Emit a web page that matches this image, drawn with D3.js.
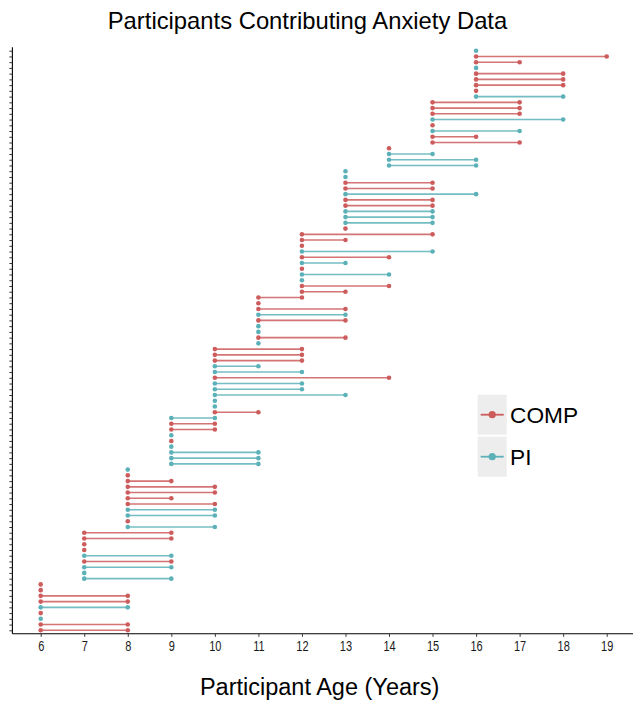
<!DOCTYPE html>
<html><head><meta charset="utf-8">
<script src="https://cdn.jsdelivr.net/npm/d3@7"></script>
<style>
body{margin:0;background:#fff;}
svg{display:block;}
</style></head>
<body>
<script>
// Rows from top to bottom: first age, last age (null = single visit), group
const rowStart = [16,16,16,16,16,16,16,16,16,15,15,15,15,15,15,15,15,14,14,14,14,13,13,13,13,13,13,13,13,13,13,13,12,12,12,12,12,12,12,12,12,12,12,11,11,11,11,11,11,11,11,11,10,10,10,10,10,10,10,10,10,10,10,10,9,9,9,9,9,9,9,9,9,8,8,8,8,8,8,8,8,8,8,8,7,7,7,7,7,7,7,7,7,6,6,6,6,6,6,6,6,6];
const rowEnd = [null,19,17,null,18,18,18,null,18,17,17,17,18,null,17,16,17,null,15,16,16,null,null,15,15,16,15,15,15,15,15,null,15,13,null,15,14,13,null,14,null,14,13,12,null,13,13,13,null,null,13,null,12,12,12,11,12,14,12,12,13,null,null,11,10,10,10,null,null,null,11,11,11,null,null,9,10,10,9,10,10,10,null,10,9,9,null,null,9,9,9,null,9,null,null,8,8,8,null,null,8,8];
const rowGroup = ["PI","COMP","COMP","PI","COMP","COMP","COMP","COMP","PI","COMP","COMP","COMP","PI","COMP","PI","COMP","COMP","COMP","PI","PI","PI","PI","PI","COMP","COMP","PI","COMP","COMP","PI","PI","PI","COMP","COMP","COMP","COMP","PI","COMP","PI","COMP","PI","PI","COMP","COMP","COMP","COMP","COMP","PI","COMP","PI","PI","COMP","PI","COMP","COMP","COMP","PI","PI","COMP","PI","PI","PI","PI","PI","COMP","PI","COMP","COMP","PI","COMP","PI","PI","PI","PI","PI","COMP","COMP","COMP","COMP","COMP","COMP","PI","PI","COMP","PI","COMP","COMP","COMP","COMP","PI","COMP","PI","PI","PI","COMP","COMP","COMP","COMP","PI","COMP","PI","COMP","COMP"];
const ageTicks = [6,7,8,9,10,11,12,13,14,15,16,17,18,19];
const groups = ["COMP","PI"];
const groupColors = ["#CD5C5C","#5CB1B8"];

const W = 633, H = 701;
const rows = rowStart.map((s,i)=>({id:i, start:s, end:rowEnd[i], group:rowGroup[i]}));

const svg = d3.select("body").append("svg").attr("width",W).attr("height",H);

const x = d3.scaleLinear().domain([5.35,19.65]).range([12.4,635]);
const y = d3.scalePoint().domain(rows.map(d=>d.id)).range([50.7,630.3]);
const color = d3.scaleOrdinal().domain(groups).range(groupColors);

// segments
svg.append("g").selectAll("line").data(rows.filter(d=>d.end!==null)).join("line")
  .attr("x1",d=>x(d.start)).attr("x2",d=>x(d.end))
  .attr("y1",d=>y(d.id)).attr("y2",d=>y(d.id))
  .attr("stroke",d=>color(d.group)).attr("stroke-width",1.6).attr("stroke-opacity",0.85);

// points
const pts = [];
rows.forEach(d=>{ pts.push({id:d.id,age:d.start,group:d.group}); if(d.end!==null) pts.push({id:d.id,age:d.end,group:d.group}); });
svg.append("g").selectAll("circle").data(pts).join("circle")
  .attr("cx",d=>x(d.age)).attr("cy",d=>y(d.id)).attr("r",2.3)
  .attr("fill",d=>color(d.group));

// y axis
const yAxis = svg.append("g").attr("transform","translate(12.4,0)")
  .call(d3.axisLeft(y).tickSize(3).tickFormat(""));
yAxis.select(".domain").attr("d","M0,47.3V633.8").attr("stroke","#000").attr("stroke-width",1.1);
yAxis.selectAll(".tick line").attr("stroke","#333").attr("stroke-width",1);

// x axis
const xAxis = svg.append("g").attr("transform","translate(0,633.8)")
  .call(d3.axisBottom(x).tickValues(ageTicks).tickSize(3).tickFormat(d3.format("d")));
xAxis.select(".domain").attr("d","M12.4,0H635").attr("stroke","#000").attr("stroke-width",1.1);
xAxis.selectAll(".tick line").attr("stroke","#333");
xAxis.selectAll(".tick text")
  .attr("y",null).attr("dy",null)
  .attr("transform","translate(0,17.2) scale(0.76,1)")
  .attr("fill","#1a1a1a")
  .style("font-family","'Liberation Sans',Arial,sans-serif").style("font-size","14.5px");

// title
svg.append("text").attr("x",307.5).attr("y",29.3).attr("text-anchor","middle")
  .style("font-family","'Liberation Sans',Arial,sans-serif").style("font-size","23.8px").attr("fill","#000")
  .text("Participants Contributing Anxiety Data");
svg.append("text").attr("x",319.7).attr("y",695).attr("text-anchor","middle")
  .style("font-family","'Liberation Sans',Arial,sans-serif").style("font-size","23.5px").attr("fill","#000")
  .text("Participant Age (Years)");

// legend
const legend = svg.append("g").attr("transform","translate(477.7,394.7)");
groups.forEach((g,i)=>{
  const k = legend.append("g").attr("transform",`translate(0,${i*42})`);
  k.append("rect").attr("width",29).attr("height",40).attr("fill","#EDEDED");
  k.append("line").attr("x1",3).attr("x2",26).attr("y1",20).attr("y2",20)
    .attr("stroke",color(g)).attr("stroke-width",1.8);
  k.append("circle").attr("cx",14.5).attr("cy",20).attr("r",3.6).attr("fill",color(g));
  k.append("text").attr("x",32.3).attr("y",28.2)
    .style("font-family","'Liberation Sans',Arial,sans-serif").style("font-size","22.7px").attr("fill","#000")
    .text(g);
});
</script>
</body></html>
